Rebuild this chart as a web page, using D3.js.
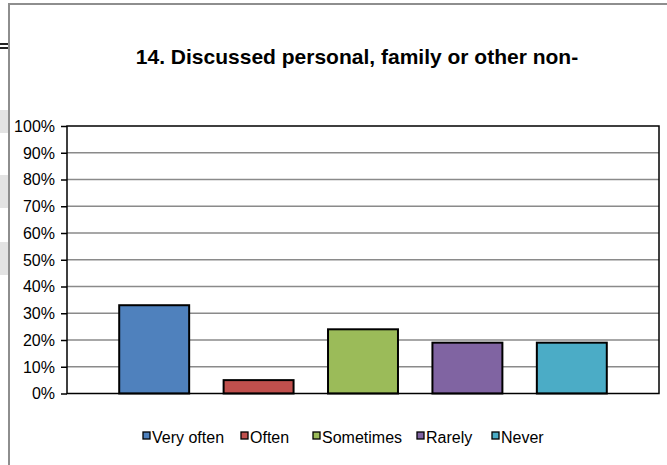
<!DOCTYPE html>
<html><head><meta charset="utf-8">
<script src="https://cdn.jsdelivr.net/npm/d3@7/dist/d3.min.js"></script>
<style>html,body{margin:0;padding:0;background:#fff;}svg{display:block;}</style>
</head><body>
<svg id="c" width="667" height="465"></svg>
<script>
const categories = ["Very often", "Often", "Sometimes", "Rarely", "Never"];
const values = [33, 5, 24, 19, 19];
const colors = ["#4F81BD", "#C0504D", "#9BBB59", "#8064A2", "#4BACC6"];
const yTicks = [0, 10, 20, 30, 40, 50, 60, 70, 80, 90, 100];
const title = "14. Discussed personal, family or other non-";

(function () {
const svg = d3.select("#c");
const font = "'Liberation Sans', Arial, sans-serif";

// background decorations (spreadsheet context)
svg.append("rect").attr("x", 0).attr("y", 110).attr("width", 8).attr("height", 23).attr("fill", "#e3e3e3");
svg.append("rect").attr("x", 0).attr("y", 175).attr("width", 8).attr("height", 33).attr("fill", "#e3e3e3");
svg.append("rect").attr("x", 0).attr("y", 242).attr("width", 8).attr("height", 33).attr("fill", "#e3e3e3");
svg.append("rect").attr("x", 0).attr("y", 43).attr("width", 8).attr("height", 2).attr("fill", "#222");
svg.append("rect").attr("x", 0).attr("y", 47).attr("width", 8).attr("height", 2).attr("fill", "#222");
// chart frame
svg.append("rect").attr("x", 8).attr("y", 3).attr("width", 659).attr("height", 2).attr("fill", "#8e8e8e");
svg.append("rect").attr("x", 8).attr("y", 3).attr("width", 2).attr("height", 462).attr("fill", "#8e8e8e");

const pl = 67, pr = 659, pt = 126, pb = 393.5;
const x = d3.scaleBand().domain(categories).range([pl, pr]).paddingInner(0.33).paddingOuter(0.5);
const y = d3.scaleLinear().domain([0, 100]).range([pb, pt]);

// gridlines
svg.append("g").selectAll("line").data(yTicks.filter(d => d > 0 && d < 100)).join("line")
  .attr("x1", pl).attr("x2", pr)
  .attr("y1", d => y(d)).attr("y2", d => y(d))
  .attr("stroke", "#8a8a8a").attr("stroke-width", 1.5);

// y axis
const yAxis = svg.append("g").attr("transform", `translate(${pl},0)`)
  .call(d3.axisLeft(y).tickValues(yTicks).tickSize(6).tickPadding(6).tickFormat(d => d + "%"));
yAxis.select(".domain").remove();
yAxis.selectAll("line").attr("stroke", "#000").attr("stroke-width", 1.5);
yAxis.selectAll("text").attr("font-family", font).attr("font-size", "16px").attr("fill", "#000").attr("dy", "0.34em");

// bars
svg.append("g").selectAll("rect").data(values).join("rect")
  .attr("x", (d, i) => x(categories[i]))
  .attr("y", d => y(d))
  .attr("width", x.bandwidth())
  .attr("height", d => y(0) - y(d))
  .attr("fill", (d, i) => colors[i])
  .attr("stroke", "#000").attr("stroke-width", 2);

// plot border
svg.append("rect").attr("x", pl).attr("y", pt).attr("width", pr - pl).attr("height", pb - pt)
  .attr("fill", "none").attr("stroke", "#000").attr("stroke-width", 1.5);

// title
svg.append("text").attr("x", 357).attr("y", 64).attr("text-anchor", "middle")
  .attr("font-family", font).attr("font-weight", "bold").attr("font-size", "21px").text(title);

// legend
const legendX = [143, 241, 313, 417, 492];
const lg = svg.append("g").selectAll("g").data(categories).join("g")
  .attr("transform", (d, i) => `translate(${legendX[i]},437)`);
lg.append("rect").attr("x", 0).attr("y", -5).attr("width", 7).attr("height", 7)
  .attr("fill", (d, i) => colors[i]).attr("stroke", "#000").attr("stroke-width", 1.3);
lg.append("text").attr("x", 9).attr("y", 5.5).attr("font-family", font).attr("font-size", "16px").text(d => d);
})();
</script>
</body></html>
